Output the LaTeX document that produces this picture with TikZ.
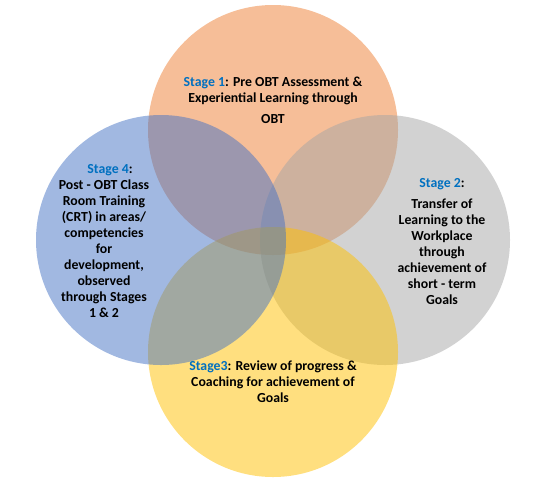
\documentclass[tikz,border=0pt]{standalone}
\usepackage{fontspec}
\setmainfont{Carlito}
\usetikzlibrary{positioning}
\definecolor{obtorange}{HTML}{ED7D31}
\definecolor{workgray}{HTML}{A5A5A5}
\definecolor{coachyellow}{HTML}{FFC000}
\definecolor{crtblue}{HTML}{4472C4}
\definecolor{stageblue}{HTML}{0070C0}
\newcommand\stageName[1]{\textcolor{stageblue}{#1}}
\newcommand\drawStageCircle[4]{%
\node[circle, inner sep=0pt, minimum size=250pt, fill=#4, fill opacity=0.5] (#3) at (#1,#2) {};
}

\begin{document}
\begin{tikzpicture}[x=1pt,y=-1pt,
			stagetext/.style={align=center, anchor=base, font=\fontsize{13.8}{16}\selectfont\bfseries}]

			\useasboundingbox (0,0) rectangle (556,488);

			% drawing circles
			\drawStageCircle{273}{130}{stage1}{obtorange}
			\drawStageCircle{385}{240}{stage2}{workgray}
			\drawStageCircle{273}{352}{stage3}{coachyellow}
			\drawStageCircle{161}{240}{stage4}{crtblue}

			% drawing texts (base is the last line)
			\node[stagetext] (text1) at (273,123) {\stageName{Stage 1}: Pre OBT Assessment \&\\
				Experiential Learning through\\[5pt] OBT};
			\node[stagetext] (text2) at (442,304) {\stageName{Stage 2}:\\[5pt]
				Transfer of\\ Learning to the\\ Workplace\\ through\\ achievement of\\ short - term\\ Goals};
			\node[stagetext] (text3) at (273,402) {\stageName{Stage3}: Review of progress \&\\
				Coaching for achievement of\\ Goals};
			\node[stagetext] (text4) at (104,317) {\hspace{12pt}\stageName{Stage 4}:\\
				Post - OBT Class\\ Room Training\\ (CRT) in areas/\\ competencies\\ for\\
				development,\\ observed\\ through Stages\\ 1 \& 2};

		\end{tikzpicture}
\end{document}
